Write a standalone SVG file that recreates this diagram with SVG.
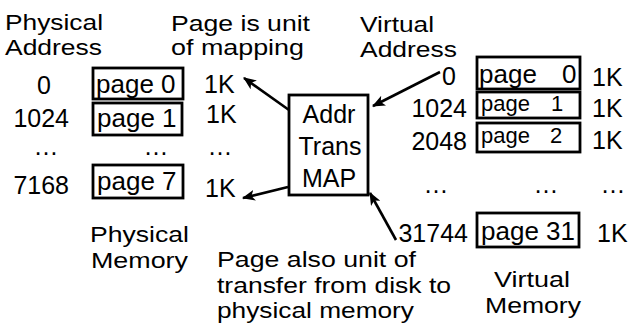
<svg xmlns="http://www.w3.org/2000/svg" width="629" height="324" viewBox="0 0 629 324">
<style>
text{font-family:"Liberation Sans",Arial,sans-serif;font-size:25px;fill:#000}
.lb{font-size:22px}
.pg{font-size:26px}
.sm{font-size:22px}
.m{text-anchor:middle}
.e{text-anchor:end}
.box{fill:#fff;stroke:#000;stroke-width:2.8}
.ln{stroke:#000;stroke-width:2.6;fill:none;marker-end:url(#ah)}
</style>
<defs>
<marker id="ah" viewBox="0 0 12 10" refX="11" refY="5" markerWidth="5" markerHeight="4.2" orient="auto" markerUnits="strokeWidth">
<path d="M0,0 L12,5 L0,10 L3,5 Z" fill="#000"/>
</marker>
</defs>
<rect width="629" height="324" fill="#fff"/>
<g id="labels">
<text class="lb" x="5" y="30" textLength="98" lengthAdjust="spacingAndGlyphs">Physical</text>
<text class="lb" x="5" y="55" textLength="97" lengthAdjust="spacingAndGlyphs">Address</text>
<text class="lb" x="171" y="31" textLength="139" lengthAdjust="spacingAndGlyphs">Page is unit</text>
<text class="lb" x="171" y="55" textLength="133" lengthAdjust="spacingAndGlyphs">of mapping</text>
<text class="lb" x="360" y="32" textLength="74" lengthAdjust="spacingAndGlyphs">Virtual</text>
<text class="lb" x="360" y="57" textLength="97" lengthAdjust="spacingAndGlyphs">Address</text>
<text class="lb" x="90" y="242" textLength="99" lengthAdjust="spacingAndGlyphs">Physical</text>
<text class="lb" x="91" y="268" textLength="97" lengthAdjust="spacingAndGlyphs">Memory</text>
<text class="lb" x="217" y="267" textLength="199" lengthAdjust="spacingAndGlyphs">Page also unit of</text>
<text class="lb" x="217" y="293" textLength="234" lengthAdjust="spacingAndGlyphs">transfer from disk to</text>
<text class="lb" x="217" y="318" textLength="197" lengthAdjust="spacingAndGlyphs">physical memory</text>
<text class="lb" x="494" y="287" textLength="76" lengthAdjust="spacingAndGlyphs">Virtual</text>
<text class="lb" x="485" y="313" textLength="96" lengthAdjust="spacingAndGlyphs">Memory</text>
</g>
<g id="physical-addresses">
<text class="m" x="44" y="94">0</text>
<text class="e" x="69" y="127">1024</text>
<text class="m" x="46" y="155">…</text>
<text class="e" x="69" y="194">7168</text>
<text class="m" x="156" y="155">…</text>
<text class="m" x="220" y="155">…</text>
<text x="204" y="93">1K</text>
<text x="206" y="123">1K</text>
<text x="205" y="197">1K</text>
</g>
<g id="phys-page-0"><rect class="box" x="93" y="68" width="90" height="31"/><text class="pg" x="96" y="93">page 0</text></g>
<g id="phys-page-1"><rect class="box" x="93" y="103" width="89" height="32"/><text class="pg" x="97" y="127">page 1</text></g>
<g id="phys-page-7"><rect class="box" x="93" y="165" width="90" height="33"/><text class="pg" x="97" y="190">page 7</text></g>
<g id="addr-trans-map">
<rect class="box" x="289" y="95" width="79" height="100"/>
<text class="m" x="329" y="123">Addr</text>
<text class="m" x="330" y="155">Trans</text>
<text class="m" x="329" y="187">MAP</text>
</g>
<g id="virtual-addresses">
<text class="m" x="449" y="85">0</text>
<text class="e" x="467" y="117">1024</text>
<text class="e" x="467" y="150">2048</text>
<text class="m" x="436" y="193">…</text>
<text class="m" x="546" y="193">…</text>
<text class="m" x="613" y="193">…</text>
<text class="e" x="468" y="242">31744</text>
<text x="592" y="86">1K</text>
<text x="592" y="117">1K</text>
<text x="592" y="149">1K</text>
<text x="597" y="242">1K</text>
</g>
<g id="virt-page-0"><rect class="box" x="477" y="57" width="103" height="32"/><text class="pg" x="479" y="83">page<tspan x="562">0</tspan></text></g>
<g id="virt-page-1"><rect class="box" x="477" y="92" width="103" height="26"/><text class="sm" x="481" y="111">page<tspan x="551">1</tspan></text></g>
<g id="virt-page-2"><rect class="box" x="477" y="123" width="103" height="29"/><text class="sm" x="481" y="143">page<tspan x="550">2</tspan></text></g>
<g id="virt-page-31"><rect class="box" x="477" y="213" width="102" height="34"/><text class="pg" x="481" y="240">page 31</text></g>
<g id="connectors">
<line class="ln" x1="289" y1="110" x2="244" y2="78"/>
<line class="ln" x1="440" y1="72" x2="373" y2="106"/>
<line class="ln" x1="288" y1="187" x2="243" y2="198"/>
<line class="ln" x1="396" y1="240" x2="370" y2="193"/>
</g>
</svg>
